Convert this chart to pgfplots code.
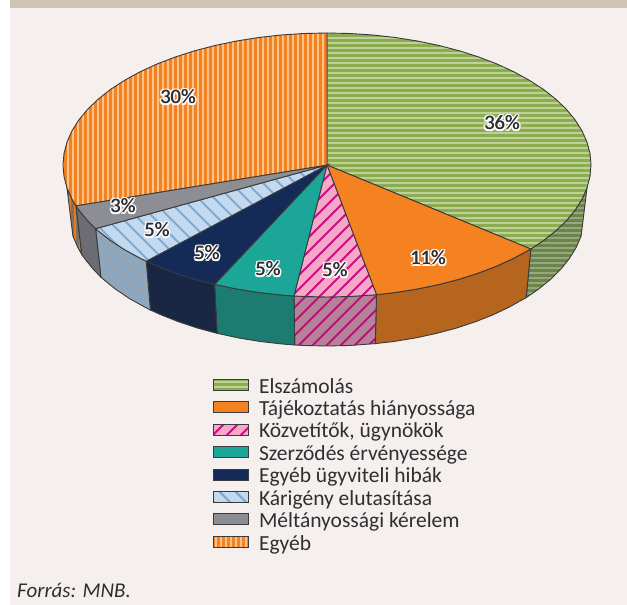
\documentclass[border=0pt]{standalone}
\usepackage{fontspec}
\setmainfont{Carlito}
\usepackage{pgfplots}
\pgfplotsset{compat=1.18}

\definecolor{edge}{HTML}{3A3A3C}
\definecolor{txt}{HTML}{2F2F33}
\definecolor{panel}{HTML}{F5EFED}
\definecolor{band}{HTML}{D1C3B6}
\definecolor{greenA}{HTML}{8CAD4F}
\definecolor{greenB}{HTML}{BDD199}
\definecolor{greenC}{HTML}{6B8548}
\definecolor{greenD}{HTML}{97A784}
\definecolor{orangeA}{HTML}{F58220}
\definecolor{orangeB}{HTML}{FBC28A}
\definecolor{orangeS}{HTML}{B5651D}
\definecolor{orangeD}{HTML}{85705F}
\definecolor{orangeE}{HTML}{DD7F22}
\definecolor{pinkA}{HTML}{F5A8C8}
\definecolor{pinkB}{HTML}{CB0F82}
\definecolor{pinkS}{HTML}{B6819A}
\definecolor{pinkT}{HTML}{B0186F}
\definecolor{tealA}{HTML}{1BA698}
\definecolor{tealS}{HTML}{1D7C72}
\definecolor{navyA}{HTML}{152B57}
\definecolor{navyS}{HTML}{1A2744}
\definecolor{blueA}{HTML}{C3D9EF}
\definecolor{blueB}{HTML}{7FABD1}
\definecolor{blueS}{HTML}{93A6B8}
\definecolor{greyA}{HTML}{8D8E93}
\definecolor{greyS}{HTML}{6C6C72}

% hatching, drawn inside each piece (patterns do not come through)
% after the reset the origin is the axis' top left corner (y dir=reverse)
\newcommand{\stripe}[4]{\pgfpathmoveto{\pgfpoint{#1}{#2}}\pgfpathlineto{\pgfpoint{#3}{#4}}\pgfusepath{stroke}}
\newcommand{\hlines}[1]{\pgftransformreset\pgfsetstrokecolor{#1}\pgfsetlinewidth{3pt}%
  \foreach \y in {-650,-645,...,50} {\stripe{-50pt}{\y pt}{700pt}{\y pt}}}
\newcommand{\vlines}[2]{\pgftransformreset\pgfsetstrokecolor{#1}\pgfsetlinewidth{#2pt}%
  \foreach \x in {-50,-45,...,700} {\stripe{\x pt}{-700pt}{\x pt}{700pt}}}
\newcommand{\uplines}[1]{\pgftransformreset\pgfsetstrokecolor{#1}\pgfsetlinewidth{2pt}%
  \foreach \u in {-1274,-1260,...,70} {\stripe{-50pt}{\u pt-50pt}{700pt}{\u pt+700pt}}}
\newcommand{\downlines}[1]{\pgftransformreset\pgfsetstrokecolor{#1}\pgfsetlinewidth{2pt}%
  \foreach \u in {-640,-624,...,680} {\stripe{-50pt}{\u pt+50pt}{700pt}{\u pt-700pt}}}

\pgfplotsset{
  solid piece/.style={fill=#1,draw=edge,line width=0.9pt,mark=none},
  striped piece/.style 2 args={fill=#1,draw=edge,line width=0.9pt,mark=none,path picture={#2}},
  swatch/.style={legend image code/.code={
    \path[##1] (0pt,-0.8pt) rectangle (35pt,10.2pt);}},
}
\tikzset{halo/.style={text=white,font=\fontsize{20.5}{24}\selectfont},
  pct/.style={text=txt,font=\fontsize{20.5}{24}\selectfont}}
\newcommand{\pctlabel}[3]{%
  \node[halo,xshift=1.8pt] at (axis cs:#1,#2) {#3};
  \node[halo,xshift=-1.8pt] at (axis cs:#1,#2) {#3};
  \node[halo,yshift=1.8pt] at (axis cs:#1,#2) {#3};
  \node[halo,yshift=-1.8pt] at (axis cs:#1,#2) {#3};
  \node[halo,xshift=1.3pt,yshift=1.3pt] at (axis cs:#1,#2) {#3};
  \node[halo,xshift=-1.3pt,yshift=1.3pt] at (axis cs:#1,#2) {#3};
  \node[halo,xshift=1.3pt,yshift=-1.3pt] at (axis cs:#1,#2) {#3};
  \node[halo,xshift=-1.3pt,yshift=-1.3pt] at (axis cs:#1,#2) {#3};
  \node[pct,xshift=-0.25pt] at (axis cs:#1,#2) {#3};
  \node[pct,xshift=0.25pt] at (axis cs:#1,#2) {#3};
}

\begin{document}
\begin{tikzpicture}
\begin{axis}[
  anchor=south west, at={(0pt,0pt)},
  width=627pt, height=605pt, scale only axis,
  xmin=0, xmax=627, ymin=0, ymax=605, y dir=reverse,
  hide axis, clip=false,
  legend style={
    at={(axis description cs:0.3382,0.3752)}, anchor=north west,
    draw=none, fill=none, inner sep=0pt, outer sep=0pt,
    font=\fontsize{21.5}{24}\selectfont, text=txt,
    row sep=0pt,
    nodes={inner sep=0pt,text height=14.6pt,text depth=7.8pt},
    /tikz/column 1/.style={column sep=9pt},
  },
  legend cell align=left,
]
% background
\addplot[fill=panel,draw=none,mark=none,forget plot] coordinates {(10,8) (627,8) (627,605) (10,605)} -- cycle;
\addplot[fill=band,draw=none,mark=none,forget plot] coordinates {(10,0) (627,0) (627,8) (10,8)} -- cycle;

% side walls
\addplot[striped piece={greenD}{\hlines{greenC}},forget plot] coordinates {
 (587,187.9) (582,199.2) (575.1,210.1) (566.3,220.8) (555.6,231) (543.3,240.7) (530.8,249)
 (526.2,297.6) (538.3,289.3) (550.4,279.5) (560.8,269.2) (569.4,258.5) (576.2,247.4) (581.1,236.1)} -- cycle;
\addplot[solid piece=orangeS,forget plot] coordinates {
 (530.8,249) (513.7,258.3) (496.7,266.1) (478.4,273.1) (459,279.3) (438.6,284.6) (417.3,289) (395.3,292.5) (376.5,294.7)
 (375.3,343.6) (393.8,341.5) (415.2,338) (436,333.5) (456,328.2) (475,321.9) (492.8,314.9) (509.4,307) (526.2,297.6)} -- cycle;
\addplot[striped piece={pinkS}{\uplines{pinkT}},forget plot] coordinates {
 (376.5,294.7) (350,296.5) (327,297) (304,296.5) (294,296)
 (294.7,345) (304.5,345.5) (327,346) (349.5,345.5) (375.3,343.6)} -- cycle;
\addplot[solid piece=tealS,forget plot] coordinates {
 (294,296) (281.2,295) (258.7,292.5) (236.7,289) (214.6,284.4)
 (217.1,333.3) (238.8,338) (260.2,341.5) (282.2,344) (294.7,345)} -- cycle;
\addplot[solid piece=navyS,forget plot] coordinates {
 (214.6,284.4) (195,279.3) (175.6,273.1) (157.3,266.1) (146.2,261.2)
 (150.4,310) (161.2,314.9) (179,321.9) (198,328.2) (217.1,333.3)} -- cycle;
\addplot[striped piece={blueS}{\downlines{blueB}},forget plot] coordinates {
 (146.2,261.2) (140.3,258.3) (124.8,249.8) (110.7,240.7) (98.4,231) (95.6,228.7)
 (100.9,277.1) (103.6,279.5) (115.7,289.3) (129.4,298.5) (144.6,307) (150.4,310)} -- cycle;
\addplot[solid piece=greyS,forget plot] coordinates {
 (95.6,228.7) (87.7,220.8) (78.9,210.1) (75.9,205.8)
 (81.6,254.1) (84.6,258.5) (93.2,269.2) (100.9,277.1)} -- cycle;
\addplot[striped piece={orangeD}{\vlines{orangeE}{2.5}},forget plot] coordinates {
 (75.9,205.8) (72,199.2) (67,187.9)
 (72.9,236.1) (77.8,247.4) (81.6,254.1)} -- cycle;

% top face, 36 11 5 5 5 5 3 30 percent
\addplot[striped piece={greenB}{\hlines{greenA}},swatch] coordinates {
 (327,165) (327,33) (350,33.5) (372.8,35) (395.3,37.5) (417.3,41) (438.6,45.4) (459,50.7) (478.4,56.9)
 (496.7,63.9) (513.7,71.7) (529.2,80.2) (543.3,89.3) (555.6,99) (566.3,109.2) (575.1,119.9) (582,130.8)
 (587,142.1) (590,153.5) (591,165) (590,176.5) (587,187.9) (582,199.2) (575.1,210.1) (566.3,220.8)
 (555.6,231) (543.3,240.7) (530.8,249)} -- cycle;
\addlegendentry{Elszámolás}
\addplot[solid piece=orangeA,swatch] coordinates {
 (327,165) (530.8,249) (513.7,258.3) (496.7,266.1) (478.4,273.1) (459,279.3) (438.6,284.6) (417.3,289)
 (395.3,292.5) (376.5,294.7)} -- cycle;
\addlegendentry{Tájékoztatás hiányossága}
\addplot[striped piece={pinkA}{\uplines{pinkB}},swatch] coordinates {
 (327,165) (376.5,294.7) (350,296.5) (327,297) (304,296.5) (294,296)} -- cycle;
\addlegendentry{Közvetítők, ügynökök}
\addplot[solid piece=tealA,swatch] coordinates {
 (327,165) (294,296) (281.2,295) (258.7,292.5) (236.7,289) (214.6,284.4)} -- cycle;
\addlegendentry{Szerződés érvényessége}
\addplot[solid piece=navyA,swatch] coordinates {
 (327,165) (214.6,284.4) (195,279.3) (175.6,273.1) (157.3,266.1) (146.2,261.2)} -- cycle;
\addlegendentry{Egyéb ügyviteli hibák}
\addplot[striped piece={blueA}{\downlines{blueB}},swatch] coordinates {
 (327,165) (146.2,261.2) (140.3,258.3) (124.8,249.8) (110.7,240.7) (98.4,231) (95.6,228.7)} -- cycle;
\addlegendentry{Kárigény elutasítása}
\addplot[solid piece=greyA,swatch] coordinates {
 (327,165) (95.6,228.7) (87.7,220.8) (78.9,210.1) (75.9,205.8)} -- cycle;
\addlegendentry{Méltányossági kérelem}
\addplot[striped piece={orangeB}{\vlines{orangeA}{3}},swatch] coordinates {
 (327,165) (75.9,205.8) (72,199.2) (67,187.9) (64,176.5) (63,165) (64,153.5) (67,142.1) (72,130.8)
 (78.9,119.9) (87.7,109.2) (98.4,99) (110.7,89.3) (124.8,80.2) (140.3,71.7) (157.3,63.9) (175.6,56.9)
 (195,50.7) (215.4,45.4) (236.7,41) (258.7,37.5) (281.2,35) (304,33.5) (327,33)} -- cycle;
\addlegendentry{Egyéb}

\pctlabel{502}{123}{36\%}
\pctlabel{428}{258}{11\%}
\pctlabel{335}{270}{5\%}
\pctlabel{268}{269}{5\%}
\pctlabel{207}{253}{5\%}
\pctlabel{157}{230}{5\%}
\pctlabel{123}{206}{3\%}
\pctlabel{178}{97}{30\%}

\node[anchor=west,text=txt,inner sep=0pt,font=\fontsize{21}{24}\selectfont\itshape] at (axis cs:17,590) {Forrás: MNB.};
\path (axis cs:0,0) rectangle (axis cs:627,605);
\end{axis}
\end{tikzpicture}
\end{document}
